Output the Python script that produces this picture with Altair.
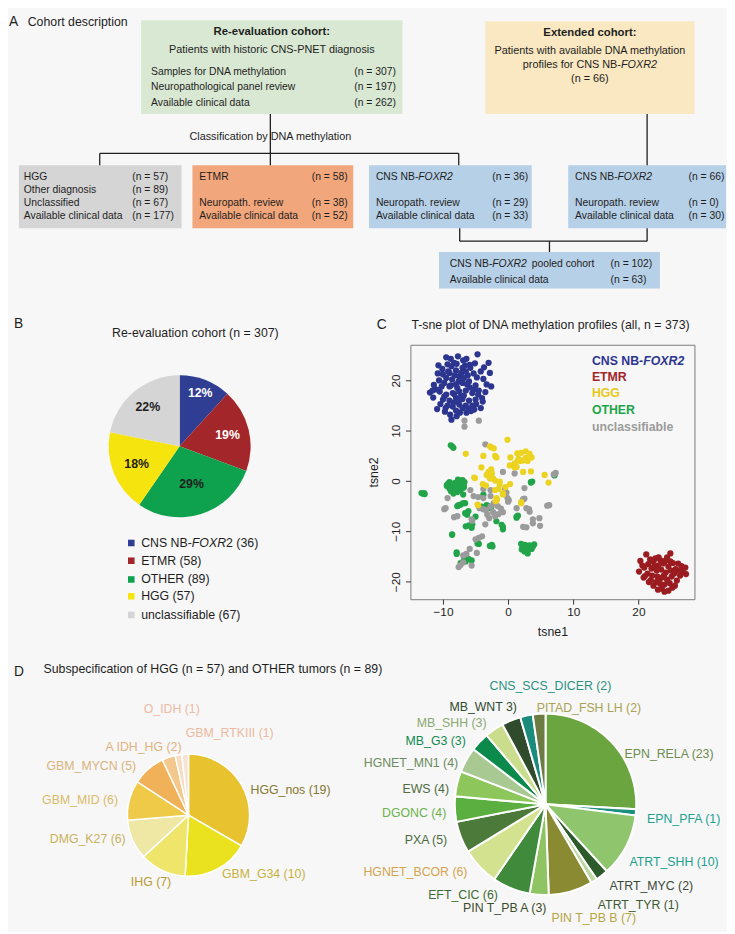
import math
import altair as alt
import pandas as pd

FONT = "Liberation Sans"
BG = "#f7f7f7"
INK = "#1e1e1e"

# ============================ DATA ============================
# ---- Panel A: cohort flowchart ----
reeval_title = "Re-evaluation cohort:"
reeval_subtitle = "Patients with historic CNS-PNET diagnosis"
reeval_rows = ["Samples for DNA methylation", "Neuropathological panel review", "Available clinical data"]
reeval_n = [307, 197, 262]
extended_title = "Extended cohort:"
extended_lines = ["Patients with available DNA methylation", "profiles for CNS NB-"]
extended_n = 66
split_label = "Classification by DNA methylation"
other_rows = ["HGG", "Other diagnosis", "Unclassified", "Available clinical data"]
other_n = [57, 89, 67, 177]
etmr_rows = ["ETMR", "Neuropath. review", "Available clinical data"]
etmr_n = [58, 38, 52]
nb_rows = ["CNS NB-", "Neuropath. review", "Available clinical data"]
nb_n = [36, 29, 33]
ext_rows = ["CNS NB-", "Neuropath. review", "Available clinical data"]
ext_n = [66, 0, 30]
pooled_rows = ["CNS NB-", "Available clinical data"]
pooled_n = [102, 63]
gene = "FOXR2"

# ---- Panel B: re-evaluation cohort pie ----
b_groups = ["CNS NB-FOXR2", "ETMR", "OTHER", "HGG", "unclassifiable"]
b_counts = [36, 58, 89, 57, 67]
b_pct = [12, 19, 29, 18, 22]

# ---- Panel C: t-SNE (tsne1, tsne2) per class ----
c_groups = ["CNS NB-FOXR2", "ETMR", "HGG", "OTHER", "unclassifiable"]
foxr2_pts = [
    (-4.7, 25.2), (-9.5, 24.6), (-8.8, 24.3), (-7.7, 24.8), (-6.9, 24.0), (-5.9, 23.1), (-5.1, 23.4), (-10.7, 23.0), (-10.1, 22.3), (-9.3, 23.2),
    (-8.3, 23.5), (-3.0, 23.5), (-2.8, 21.5), (-4.2, 21.8), (-5.3, 21.4), (-3.8, 20.3), (-2.6, 18.8), (-3.5, 17.7), (-4.2, 14.5), (-5.2, 14.2),
    (-5.7, 13.9), (-6.4, 13.6), (-7.4, 13.6), (-8.7, 12.2), (-9.7, 13.8), (-10.9, 14.3), (-10.4, 15.3), (-11.5, 16.6), (-12.0, 17.6), (-11.4, 19.1),
    (-10.6, 20.0), (-9.0, 21.5), (-8.0, 22.0), (-7.0, 22.5), (-6.2, 21.0), (-7.5, 20.8), (-8.6, 20.2), (-9.8, 19.5), (-9.0, 18.8), (-8.0, 19.2),
    (-7.0, 19.5), (-6.0, 19.8), (-5.0, 19.0), (-4.5, 18.0), (-5.5, 17.5), (-6.5, 18.0), (-7.5, 17.8), (-8.5, 17.5), (-9.5, 17.2), (-10.5, 17.8),
    (-10.0, 16.2), (-9.0, 16.0), (-8.0, 16.5), (-7.0, 16.3), (-6.0, 16.0), (-5.0, 16.2), (-4.0, 16.5), (-5.5, 15.0), (-6.5, 15.0), (-7.5, 15.2),
    (-8.5, 14.8), (-9.3, 15.0), (-8.0, 14.0), (-7.0, 14.5), (-6.8, 17.0), (-7.8, 18.5), (-8.8, 19.0), (-6.3, 19.2), (-7.2, 21.5), (-8.2, 21.0),
    (-9.5, 20.5), (-5.8, 22.5), (-6.6, 23.0), (-4.8, 20.6), (-3.3, 19.2), (-11.0, 18.2), (-10.2, 18.8), (-9.6, 14.5), (-7.3, 16.8), (-8.3, 17.3),
    (-7.6, 19.8), (-6.8, 20.5), (-5.9, 18.6), (-4.6, 17.2), (-9.2, 21.8), (-10.0, 21.2), (-8.7, 22.8), (-7.9, 23.3), (-6.4, 24.3), (-9.8, 16.8),
    (-6.1, 14.3), (-4.9, 15.3), (-3.9, 15.8), (-7.7, 15.8), (-8.4, 15.6), (-5.3, 18.2), (-6.5, 21.8), (-8.9, 13.2), (-7.9, 12.9), (-10.8, 21.4),
    (-11.6, 18.0), (-3.7, 22.6),
]
etmr_pts = [
    (21.2, -14.6), (24.9, -14.4), (20.3, -15.9), (23.1, -15.2), (24.1, -15.9), (26.6, -16.9), (27.2, -17.2), (27.3, -18.5), (20.1, -18.0), (20.8, -19.2),
    (21.6, -20.1), (22.3, -20.8), (23.6, -21.4), (24.6, -21.8), (25.6, -20.8), (25.9, -19.8), (26.4, -18.8), (21.5, -16.5), (22.3, -16.0), (23.0, -16.8),
    (23.8, -16.4), (24.6, -17.0), (25.3, -16.3), (22.0, -17.4), (22.8, -17.8), (23.5, -17.6), (24.2, -18.2), (25.0, -17.8), (25.7, -17.5), (21.4, -18.4),
    (22.1, -18.8), (22.9, -19.0), (23.6, -19.2), (24.4, -19.6), (25.1, -19.0), (21.9, -19.7), (22.7, -20.1), (23.3, -20.4), (24.0, -20.6), (24.8, -20.3),
    (20.9, -17.2), (23.4, -15.8), (24.4, -15.2), (26.0, -17.8), (26.8, -17.9), (25.2, -21.2), (23.0, -21.6), (22.6, -15.4), (21.8, -15.6), (24.0, -22.0),
    (26.1, -16.4), (20.6, -16.8), (25.5, -18.4), (22.4, -17.0), (23.9, -18.8), (21.0, -18.9), (24.9, -16.0), (23.2, -19.8),
]
hgg_pts = [
    (-0.1, 8.2), (-6.5, 5.4), (-3.8, 5.0), (-2.6, 6.7), (-2.2, 6.5), (-2.8, 6.9), (-2.0, 5.0), (-1.8, 4.7), (-4.1, 2.7), (0.35, 4.7),
    (1.4, 5.5), (2.0, 5.6), (2.7, 5.9), (3.3, 5.4), (3.6, 4.7), (1.9, 4.0), (2.3, 4.1), (3.0, 4.0), (1.5, 4.1), (0.25, 3.1),
    (1.0, 3.5), (1.0, 2.7), (1.3, 2.8), (2.3, 1.8), (3.5, 1.9), (-3.0, 1.8), (-2.5, 1.5), (-2.9, 0.9), (-2.3, 0.5), (-3.3, 1.2),
    (-3.0, 1.1), (-2.8, 0.5), (-2.0, 0.1), (-5.1, 0.6), (-5.2, 0.7), (-1.3, -0.1), (-1.3, -0.7), (0.3, -0.6), (-3.9, -0.6), (-3.4, -0.9),
    (-1.5, -1.6), (-2.0, -1.8), (-0.8, -2.4), (-0.8, -2.7), (-1.8, -3.4), (-1.7, -3.7), (-1.9, -4.0), (-4.7, -4.7), (-4.6, -4.8), (2.0, -4.2),
    (2.0, -4.4), (5.6, 1.2), (6.2, -0.3), (-2.6, 2.3), (1.6, 4.4), (2.7, 4.6), (-0.4, -1.2),
]
other_pts = [
    (-8.8, 7.1), (-8.4, 6.6), (-8.6, 6.9), (-13.1, -2.5), (-12.8, -2.6), (-13.3, -2.4), (-12.9, -2.4),
    (-9.2, -0.5), (-9.0, -1.5), (-8.6, -0.8), (-8.3, -1.8), (-8.0, -1.2), (-7.8, -0.3), (-7.5, -0.9), (-7.2, 0.1), (-7.0, -0.6), (-6.8, -1.3),
    (-7.3, -1.8), (-7.8, -2.2), (-8.8, -2.0), (-7.0, 0.2), (-6.7, -0.2), (-7.5, -1.4), (-8.2, -0.4), (-9.4, -1.0), (-6.9, -2.7), (-8.4, -2.5),
    (-9.4, -0.8), (-7.4, -0.4), (-6.8, -0.9), (-8.1, -1.6),
    (-6.6, -4.4), (-7.3, -4.7), (-7.8, -5.0), (-6.1, -6.0), (-6.6, -6.4), (-6.3, -6.7), (-5.0, -7.1), (-6.5, -9.0), (-6.0, -8.8), (-5.5, -8.6), (-5.6, -9.3),
    (-8.6, -10.6), (-8.6, -10.7), (-4.5, -12.5), (-4.7, -12.4), (-2.5, -12.7), (-2.4, -13.0), (-7.9, -14.5), (-7.9, -14.2), (-6.8, -15.8), (-6.1, -15.5),
    (-5.6, -15.8), (-7.3, -16.3), (-6.5, -16.0),
    (-3.0, -5.0), (-2.6, -5.2), (-3.3, -4.8), (-3.0, -5.4), (-4.1, -5.1), (-3.8, -2.7), (-1.8, -8.0), (-0.8, -9.1), (-0.8, -9.6), (-1.0, -8.7), (1.3, -7.3), (1.5, -6.9), (1.3, -7.1),
    (3.5, -0.3), (3.7, -0.1), (3.5, -0.2), (7.1, 1.2), (7.1, 1.1),
    (2.0, -12.5), (2.3, -13.0), (2.6, -12.7), (3.0, -13.3), (3.3, -12.8), (3.6, -13.5), (4.0, -12.6), (2.5, -14.0), (3.0, -14.4), (2.1, -13.6), (3.8, -13.0),
    (-7.6, -4.8), (-6.9, -4.4), (-9.0, -0.2), (-7.7, 0.3), (-2.8, -12.9),
]
unclass_pts = [
    (-6.7, 12.0), (-6.7, 10.8), (-4.5, 12.0), (-3.5, 7.3), (-0.8, 1.8), (1.0, 1.5), (7.3, 1.6), (7.0, 1.3), (2.5, -1.4), (-5.8, -1.8),
    (-3.8, -1.6), (-2.7, -1.8), (-0.25, -2.3), (-0.5, -1.6), (-5.3, -3.0), (-4.6, -3.2), (-3.8, -3.4), (-2.7, -3.0), (-0.1, -3.4), (0.1, -3.8),
    (0.0, -4.1), (-9.3, -3.4), (-9.6, -5.4), (-9.8, -5.6), (-8.3, -7.2), (-7.8, -7.0), (-5.6, -7.6), (-5.5, -7.9), (-3.5, -8.6), (-2.7, -5.1),
    (-3.4, -5.8), (-2.3, -6.2), (-1.6, -5.0), (-1.1, -5.5), (-0.8, -6.2), (-3.2, -6.7), (-3.8, -5.6), (-4.4, -5.4), (-2.0, -7.0), (-2.9, -7.4),
    (-1.5, -6.6), (1.3, -5.4), (2.8, -5.4), (3.2, -5.6), (3.3, -6.1), (2.3, -3.6), (2.5, -3.5), (6.3, -4.8), (6.0, -4.9), (3.8, -7.6),
    (3.8, -8.4), (4.8, -7.4), (4.9, -8.9), (2.3, -9.1), (2.8, -9.2), (-5.0, -11.6), (-4.5, -11.3), (-4.0, -11.0), (-4.8, -14.3), (-5.9, -13.5),
    (-6.4, -14.5), (-6.9, -16.2), (-7.3, -16.7), (-7.6, -17.1), (-5.6, -16.8), (-6.9, -14.8), (-2.2, -4.4),
]

# ---- Panel D: subtypes ----
hgg_types = ["HGG_nos", "GBM_G34", "IHG", "DMG_K27", "GBM_MID", "GBM_MYCN", "A IDH_HG", "GBM_RTKIII", "O_IDH"]
hgg_counts = [19, 10, 7, 6, 6, 5, 2, 1, 1]
oth_types = ["EPN_RELA", "EPN_PFA", "ATRT_SHH", "ATRT_MYC", "ATRT_TYR", "PIN T_PB B", "PIN T_PB A", "EFT_CIC",
             "HGNET_BCOR", "PXA", "DGONC", "EWS", "HGNET_MN1", "MB_G3", "MB_SHH", "MB_WNT", "CNS_SCS_DICER", "PITAD_FSH LH"]
oth_counts = [23, 1, 10, 2, 1, 7, 3, 6, 6, 5, 4, 4, 4, 3, 3, 3, 2, 2]
oth_label_text = [f"{t} ({n})" for t, n in zip(oth_types, oth_counts)]
oth_label_text[oth_types.index("MB_WNT")] = "MB_WNT 3)"   # as printed in the figure
hgg_label_text = [f"{t} ({n})" for t, n in zip(hgg_types, hgg_counts)]

# ============================ STYLE ============================
b_fill = ["#2f3d93", "#a2262a", "#0fa24e", "#f6e40f", "#d5d5d5"]
b_pct_color = ["#ffffff", "#ffffff", INK, INK, INK]
c_fill = ["#2c3590", "#9a1c20", "#ecd320", "#22a44a", "#9b9b9b"]
c_text = ["#2c3590", "#a3262a", "#e8c81a", "#22a44a", "#9b9b9b"]
hgg_fill = ["#e8c22f", "#ebe21f", "#efe56b", "#efe7a4", "#efca48", "#f1b159", "#f3c88d", "#f6dcc0", "#f6e3d6"]
hgg_lab = ["#857630", "#c9b23f", "#b79a35", "#c9b25e", "#d9bb6a", "#d8b57c", "#e2b27e", "#eeb9a0", "#eebba5"]
oth_fill = ["#6ba53f", "#1b8f7e", "#8fc56c", "#2d5a2b", "#bcd9a2", "#8a8a32", "#8fc463", "#3f8a3b", "#d3e28e",
            "#4b7a3b", "#5bae40", "#8dc65b", "#a9c993", "#0b8a4b", "#cadd8c", "#2f4b2b", "#1b8b7b", "#6b7b42"]
oth_lab = ["#6d8b52", "#219f8f", "#219f8f", "#3a4a38", "#3e5a33", "#b5a445", "#3b4b2c", "#3d6b33", "#d4a450",
           "#4a6a40", "#6cb34c", "#4d6b3d", "#6b8b61", "#118a52", "#8ca872", "#2f4a2f", "#2b9282", "#aaa253"]

# label placement (radial distance, angular nudge in degrees, alignment)
hgg_lab_r = [68, 69, 78, 68, 73, 73, 69, 83, 109]
hgg_lab_nudge = [7.6, -1.1, 3.9, 3.1, -2.3, -5.6, 13.1, 7.5, -5.8]
hgg_lab_align = ["left", "left", "center", "right", "right", "right", "right", "left", "center"]
oth_lab_r = [95, 104, 103, 105, 115, 115, 105, 104, 105, 106, 101, 99, 98, 103, 102, 103, 120, 98]
oth_lab_nudge = [11.0, 3.2, 7.0, 0.3, 4.9, 13.2, -4.5, 5.4, 2.4, 1.4, -2.1, -4.4, -4.0, -5.2, -1.5, 5.9, 14.5, -1.2]
oth_lab_align = ["left"] * 6 + ["right"] * 10 + ["center", "left"]
b_lab_r = [58, 50, 40, 47, 51]


# ============================ HELPERS ============================
def T(x, y, t, align="left", weight="normal", style="normal", size=10.5, color=INK):
    return dict(x=x, y=y, t=str(t), align=align, weight=weight, style=style, size=size, c=color)


def text_layers(items):
    df = pd.DataFrame(items)
    out = []
    for (al, wt, st, sz), g in df.groupby(["align", "weight", "style", "size"], sort=False):
        out.append(
            alt.Chart(g[["x", "y", "t", "c"]].reset_index(drop=True))
            .mark_text(align=al, baseline="middle", fontWeight=wt, fontStyle=st, fontSize=float(sz), font=FONT)
            .encode(
                x=alt.X("x:Q", scale=None, axis=None),
                y=alt.Y("y:Q", scale=None, axis=None),
                text="t:N",
                color=alt.Color("c:N", scale=None, legend=None),
            )
        )
    return out


def rects(items):
    df = pd.DataFrame(items, columns=["x", "y", "x2", "y2", "c"])
    return alt.Chart(df).mark_rect().encode(
        x=alt.X("x:Q", scale=None, axis=None), x2="x2",
        y=alt.Y("y:Q", scale=None, axis=None), y2="y2",
        color=alt.Color("c:N", scale=None, legend=None),
    )


def rules(items, **kw):
    df = pd.DataFrame(items, columns=["x", "y", "x2", "y2"])
    style = dict(color=INK, strokeWidth=1.3)
    style.update(kw)
    return alt.Chart(df).mark_rule(**style).encode(
        x=alt.X("x:Q", scale=None, axis=None), x2="x2",
        y=alt.Y("y:Q", scale=None, axis=None), y2="y2",
    )


def pie_table(counts, fills):
    total = sum(counts)
    rows, cum = [], 0
    for n, f in zip(counts, fills):
        t0 = 2 * math.pi * cum / total
        cum += n
        t1 = 2 * math.pi * cum / total
        rows.append(dict(n=n, t0=t0, t1=t1, mid=(t0 + t1) / 2, c=f))
    return pd.DataFrame(rows)


def pie_layer(df, cx, cy, r, **kw):
    return alt.Chart(df).mark_arc(radius=r, **kw).encode(
        theta=alt.Theta("t0:Q", scale=None), theta2="t1",
        color=alt.Color("c:N", scale=None, legend=None),
        x=alt.value(cx), y=alt.value(cy),
    )


def pie_labels(df, texts, cx, cy, radii, nudges, aligns, colors, size, weight="normal"):
    items = []
    for i in range(len(df)):
        a = df["mid"][i] + math.radians(nudges[i])
        items.append(T(cx + radii[i] * math.sin(a), cy - radii[i] * math.cos(a), texts[i],
                       aligns[i], weight, "normal", size, colors[i]))
    return items


# ============================ PANEL A ============================
GREEN, YELLOW, GREY, ORANGE, BLUE = "#d9e8d2", "#f9e8c1", "#d5d5d5", "#f2a67b", "#b6d0e7"
a_boxes = [
    (134, 5, 399, 100, GREEN), (483, 6, 695, 100, YELLOW),
    (10, 152, 175, 216, GREY), (186, 152, 349, 216, ORANGE),
    (365, 152, 530, 216, BLUE), (567, 152, 727, 216, BLUE),
    (436, 240, 660, 277, BLUE),
]
a_lines = [
    (265, 100, 265, 152), (92, 140, 456, 140), (92, 140, 92, 152), (456, 140, 456, 152),
    (647, 100, 647, 152), (457, 216, 457, 229), (457, 229, 647, 229), (647, 216, 647, 229),
    (548, 229, 548, 240),
]
a_items = [
    T(0, 7, "A", size=14), T(19, 7, "Cohort description", size=12.5),
    T(266.5, 17, reeval_title, "center", "bold", size=11.5),
    T(266.5, 35, reeval_subtitle, "center", size=11),
    T(589, 18, extended_title, "center", "bold", size=11.5),
    T(589, 36, extended_lines[0], "center", size=11),
    T(521, 50, extended_lines[1], size=11), T(620.5, 50, gene, style="italic", size=11),
    T(589, 65, f"(n = {extended_n})", "center", size=11),
    T(265, 123, split_label, "center", size=11),
]


def box_rows(x, nx, ys, labels, ns):
    out = []
    for y, lab, n in zip(ys, labels, ns):
        out.append(T(x, y, lab))
        out.append(T(nx, y, f"(n = {n})"))
    return out


a_items += box_rows(144, 350, [57, 73, 89], reeval_rows, reeval_n)
a_items += box_rows(15, 125, [164, 177, 190, 204], other_rows, other_n)
a_items += box_rows(193, 307, [164, 190, 204], etmr_rows, etmr_n)
a_items += box_rows(372, 490, [164, 190, 204], nb_rows, nb_n)
a_items += [T(415, 164, gene, style="italic")]
a_items += box_rows(574, 689, [164, 190, 204], ext_rows, ext_n)
a_items += [T(617, 164, gene, style="italic")]
a_items += box_rows(447, 610, [252, 268], pooled_rows, pooled_n)
a_items += [T(490, 252, gene, style="italic"), T(530, 252, "pooled cohort")]

panelA = alt.layer(rects(a_boxes), rules(a_lines), *text_layers(a_items)).properties(width=727, height=300)

# ============================ PANEL B ============================
bx, by, br = 173, 103, 72
b_df = pie_table(b_counts, b_fill)
b_items = [
    T(5, -21, "B", size=14),
    T(189, -12, f"Re-evaluation cohort (n = {sum(b_counts)})", "center", size=12.5),
]
b_items += pie_labels(b_df, [f"{p}%" for p in b_pct], bx, by, b_lab_r, [0] * 5, ["center"] * 5,
                      b_pct_color, 12.5, "bold")
leg_y = [201, 219, 238, 255, 274]
leg_sq = pd.DataFrame(dict(x=[124] * 5, y=leg_y, c=b_fill))
b_items += [T(134, leg_y[0], "CNS NB-", size=12.5), T(185.4, leg_y[0], "FOXR", style="italic", size=12.5),
            T(220.1, leg_y[0], f"2 ({b_counts[0]})", size=12.5)]
for g, n, y in zip(b_groups[1:], b_counts[1:], leg_y[1:]):
    b_items.append(T(134, y, f"{g} ({n})", size=12.5))

sq_layer = alt.Chart(leg_sq).mark_square(size=44, opacity=1).encode(
    x=alt.X("x:Q", scale=None, axis=None), y=alt.Y("y:Q", scale=None, axis=None),
    color=alt.Color("c:N", scale=None, legend=None))
# invisible guides that fix the extent of this row for the page layout
row_guides = rules([(0, -32, 10, -32), (0, 303, 10, 303)], opacity=0)
panelB = alt.layer(row_guides, pie_layer(b_df, bx, by, br), sq_layer, *text_layers(b_items)).properties(width=407, height=258)

# ============================ PANEL C ============================
draw_order = [("CNS NB-FOXR2", foxr2_pts), ("ETMR", etmr_pts), ("OTHER", other_pts),
              ("unclassifiable", unclass_pts), ("HGG", hgg_pts)]
rows = []
for g, pts in draw_order:
    for x, y in pts:
        rows.append(dict(g=g, x=x, y=y))
pts_df = pd.DataFrame(rows)

axis_common = dict(grid=False, domain=False, tickSize=5, tickColor="#333333", tickWidth=1,
                   labelFontSize=12, labelColor=INK, labelFont=FONT, titleFont=FONT,
                   titleFontSize=12.5, titleFontWeight="normal", titleColor=INK)
points = alt.Chart(pts_df).mark_circle(size=40, opacity=1).encode(
    x=alt.X("x:Q", scale=alt.Scale(domain=[-15, 28.6], nice=False, zero=False),
            axis=alt.Axis(values=[-10, 0, 10, 20], title="tsne1", labelPadding=3, titlePadding=8, **axis_common)),
    y=alt.Y("y:Q", scale=alt.Scale(domain=[-23.5, 27.1], nice=False, zero=False),
            axis=alt.Axis(values=[-20, -10, 0, 10, 20], title="tsne2", labelAngle=270, labelAlign="center",
                          labelBaseline="bottom", labelPadding=3, titlePadding=9, **axis_common)),
    color=alt.Color("g:N", scale=alt.Scale(domain=c_groups, range=c_fill), legend=None),
)


def vtext(x, y, t, color=INK, size=12.5, weight="normal", style="normal", align="left"):
    return alt.Chart(pd.DataFrame({"t": [t]})).mark_text(
        align=align, baseline="middle", fontSize=size, fontWeight=weight, fontStyle=style, font=FONT, color=color
    ).encode(x=alt.value(x), y=alt.value(y), text="t:N")


c_leg_y = [17, 33, 49, 66, 83]
c_layers = [points,
            vtext(-34, -20, "C", size=14),
            vtext(1, -20, "T-sne plot of DNA methylation profiles (all, n = 373)"),
            vtext(184, c_leg_y[0], "CNS NB-", c_text[0], weight="bold"),
            vtext(236.1, c_leg_y[0], gene, c_text[0], weight="bold", style="italic")]
for g, col, y in zip(c_groups[1:], c_text[1:], c_leg_y[1:]):
    c_layers.append(vtext(184, y, g, col, weight="bold"))
panelC = alt.layer(*c_layers).properties(width=288, height=258,
                                         view=alt.ViewBackground(stroke="#7a7a7a", strokeWidth=1))

# ============================ PANEL D ============================
lx, ly, lr = 182, 172, 62
rx, ry, rr = 544, 161, 92
hgg_df = pie_table(hgg_counts, hgg_fill)
oth_df = pie_table(oth_counts, oth_fill)
d_items = [
    T(5, 27, "D", size=14),
    T(35, 24, f"Subspecification of HGG (n = {sum(hgg_counts)}) and OTHER tumors (n = {sum(oth_counts)})", size=12.5),
]
d_items += pie_labels(hgg_df, hgg_label_text, lx, ly, hgg_lab_r, hgg_lab_nudge, hgg_lab_align, hgg_lab, 12.5)
d_items += pie_labels(oth_df, oth_label_text, rx, ry, oth_lab_r, oth_lab_nudge, oth_lab_align, oth_lab, 12.5)
panelD = alt.layer(
    pie_layer(hgg_df, lx, ly, lr, stroke="#ffffff", strokeWidth=1.5),
    pie_layer(oth_df, rx, ry, rr, stroke="#ffffff", strokeWidth=2),
    *text_layers(d_items),
).properties(width=727, height=283)

# ============================ ASSEMBLY ============================
row2 = alt.hconcat(panelB, panelC, spacing=0, bounds="flush")
chart = (
    alt.vconcat(panelA, row2, panelD, spacing=0)
    .properties(padding=0, background=BG)
    .configure(font=FONT)
    .configure_view(stroke="transparent")
)
chart.save("out.html", embed_options={"renderer": "svg", "actions": False})
